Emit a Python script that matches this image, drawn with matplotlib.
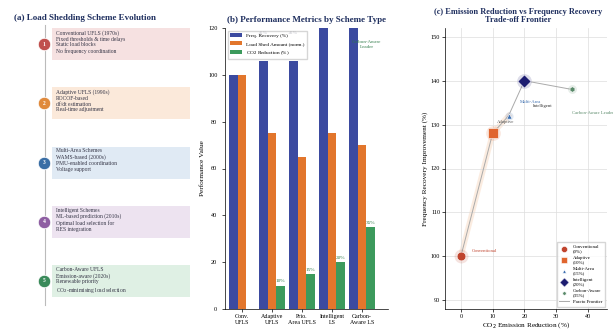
import matplotlib.pyplot as plt
import numpy as np
from matplotlib.patches import FancyBboxPatch

plt.rcParams['font.family'] = ['Liberation Serif', 'DejaVu Serif']

# (a) timeline of load shedding schemes
eras = ['1', '2', '3', '4', '5']
era_text = [
    'Conventional UFLS (1970s)\nFixed thresholds & time delays\nStatic load blocks\nNo frequency coordination',
    'Adaptive UFLS (1990s)\nROCOF-based\ndf/dt estimation\nReal-time adjustment',
    'Multi-Area Schemes\nWAMS-based (2000s)\nPMU-enabled coordination\nVoltage support',
    'Intelligent Schemes\nML-based prediction (2010s)\nOptimal load selection for\nRES integration',
    'Carbon-Aware UFLS\nEmission-aware (2020s)\nRenewable priority\nCO$_2$-minimising load selection',
]
era_colors = ['#c0504d', '#e08a3c', '#3a6ea5', '#8e5ea2', '#3a8a5a']
box_colors = ['#f5dede', '#fbe7d6', '#dde8f3', '#ece0ef', '#dcefe2']

# (b) performance metrics
schemes = ['Conv.\nUFLS', 'Adaptive\nUFLS', 'Prio.\nArea UFLS', 'Intelligent\nLS', 'Carbon-\nAware LS']
freq_recovery = [100, 106, 106, 130, 135]
load_shed = [100, 75, 65, 75, 70]
co2_reduction = [0, 10, 15, 20, 35]

# (c) trade-off frontier
front_names = ['Conventional', 'Adaptive', 'Multi-Area', 'Intelligent', 'Carbon-Aware']
front_co2 = [0, 10, 15, 20, 35]
front_freq = [100, 128, 132, 140, 138]

fig = plt.figure(figsize=(6.13, 3.3), dpi=100)
title_color = '#1f2f5f'

# ---- panel a ----
ax0 = fig.add_axes([0, 0, 205 / 613, 1])
ax0.set_xlim(0, 205)
ax0.set_ylim(330, 0)
ax0.axis('off')
ax0.text(85, 18, '(a) Load Shedding Scheme Evolution', ha='center', va='center',
         fontsize=6.5, fontweight='bold', color=title_color)
ax0.plot([45, 45], [25, 305], color='#bbbbbb', lw=0.8, zorder=1)
centers = np.linspace(44, 281, len(eras))
for i, yc in enumerate(centers):
    box = FancyBboxPatch((52, yc - 16), 138, 32, boxstyle='square,pad=0',
                         facecolor=box_colors[i], edgecolor='none', alpha=0.9, zorder=1)
    ax0.add_patch(box)
    ax0.plot(44, yc, 'o', ms=9, color=era_colors[i], mec='white', mew=0.6, zorder=3)
    ax0.text(44, yc, eras[i], ha='center', va='center', fontsize=4, color='white',
             fontweight='bold', zorder=4)
    ax0.text(56, yc - 14, era_text[i], ha='left', va='top', fontsize=4.0,
             color='#333344', linespacing=1.2, zorder=2)

# ---- panel b ----
ax1 = fig.add_axes([225 / 613, 21 / 330, 163 / 613, 281 / 330])
x = np.arange(len(schemes))
w = 0.29
ax1.bar(x - w, freq_recovery, w, color='#3b4aa0', label='Freq. Recovery (%)')
ax1.bar(x, load_shed, w, color='#e2762c', label='Load Shed Amount (norm.)')
ax1.bar(x + w, co2_reduction, w, color='#3c9a5c', label='CO$_2$ Reduction (%)')
for i, v in enumerate(freq_recovery):
    # gains that still fit under the axis top get a label
    if 100 < v < 110:
        ax1.text(x[i] - w, v + 11, f'+{v - 100}%', ha='center', va='bottom', fontsize=3.6,
                 color='#222244', fontweight='bold')
for i, v in enumerate(co2_reduction):
    if v > 0:
        ax1.text(x[i] + w, v + 1, f'{v}%', ha='center', va='bottom', fontsize=3.8, color='#2e7a48')
ax1.text(4.15, 113, 'Carbon-Aware\nLeader', ha='center', va='center', fontsize=3.6,
         color='#2e7a48')
ax1.set_xlim(-0.57, 4.87)
ax1.set_ylim(0, 120)
ax1.set_yticks(range(0, 121, 20))
ax1.set_xticks(x)
ax1.set_xticklabels(schemes, fontsize=4.3)
ax1.tick_params(axis='y', labelsize=4.5, length=2, width=0.5)
ax1.tick_params(axis='x', length=2, width=0.5, pad=1.5)
ax1.set_ylabel('Performance Value', fontsize=5.2, labelpad=2)
ax1.set_title('(b) Performance Metrics by Scheme Type', fontsize=6.5, fontweight='bold',
              color=title_color, pad=4)
for s in ['top', 'right']:
    ax1.spines[s].set_visible(False)
for s in ['left', 'bottom']:
    ax1.spines[s].set_linewidth(0.5)
ax1.legend(loc='upper left', fontsize=3.8, frameon=True, handlelength=2.2,
           borderpad=0.5, labelspacing=0.6, edgecolor='#cccccc', fancybox=False)

# ---- panel c ----
ax2 = fig.add_axes([445 / 613, 21 / 330, 162 / 613, 281 / 330])
point_colors = ['#c0442e', '#e0652e', '#3d6fb0', '#1c1c70', '#5a8a6a']
point_markers = ['o', 's', '^', 'D', 'h']
point_sizes = [40, 45, 14, 45, 16]
label_offsets = [(8, 4), (3, 8), (8, 10), (6, -18), (15, -17)]
label_align = ['left', 'left', 'left', 'left', 'center']
label_colors = ['#c0442e', '#555555', '#3d6fb0', '#333333', '#5a8a6a']

line, = ax2.plot(front_co2, front_freq, color='#aaaaaa', lw=0.7, label='Pareto Frontier', zorder=1)
ax2.plot(front_co2[:3], front_freq[:3], color='#f5c9a8', lw=4, alpha=0.35, zorder=0)
handles = []
for i in range(len(front_names)):
    ax2.scatter(front_co2[i], front_freq[i], s=point_sizes[i] * 2.5, color=point_colors[i],
                alpha=0.15, lw=0, zorder=2)
    h = ax2.scatter(front_co2[i], front_freq[i], s=point_sizes[i], marker=point_markers[i],
                    color=point_colors[i], edgecolor='white', linewidth=0.4, zorder=3,
                    label=f'{front_names[i]}\n({front_co2[i]}%)')
    handles.append(h)
    ax2.annotate(front_names[i] + (' Leader' if i == 4 else ''), (front_co2[i], front_freq[i]),
                 xytext=label_offsets[i], textcoords='offset points', fontsize=3.4,
                 color=label_colors[i], ha=label_align[i], va='center')
handles.append(line)
ax2.set_xlim(-5, 46)
ax2.set_ylim(88, 152)
ax2.set_xticks(range(0, 41, 10))
ax2.set_yticks(range(90, 151, 10))
ax2.grid(True, color='#dddddd', lw=0.5)
ax2.set_axisbelow(True)
ax2.tick_params(labelsize=4.5, length=2, width=0.5, pad=1.5)
ax2.set_xlabel('CO$_2$ Emission Reduction (%)', fontsize=5.2, labelpad=1)
ax2.set_ylabel('Frequency Recovery Improvement (%)', fontsize=5.2, labelpad=2)
ax2.set_title('(c) Emission Reduction vs Frequency Recovery\nTrade-off Frontier', fontsize=6.0,
              fontweight='bold', color=title_color, pad=4, linespacing=1.0, x=0.45)
for s in ['top', 'right']:
    ax2.spines[s].set_visible(False)
for s in ['left', 'bottom']:
    ax2.spines[s].set_linewidth(0.5)
ax2.legend(handles=handles, loc='lower right', fontsize=3.5, frameon=True, markerscale=0.7,
           labelspacing=0.5, borderpad=0.5, edgecolor='#cccccc', fancybox=False)

fig.savefig('out.png', dpi=100)
